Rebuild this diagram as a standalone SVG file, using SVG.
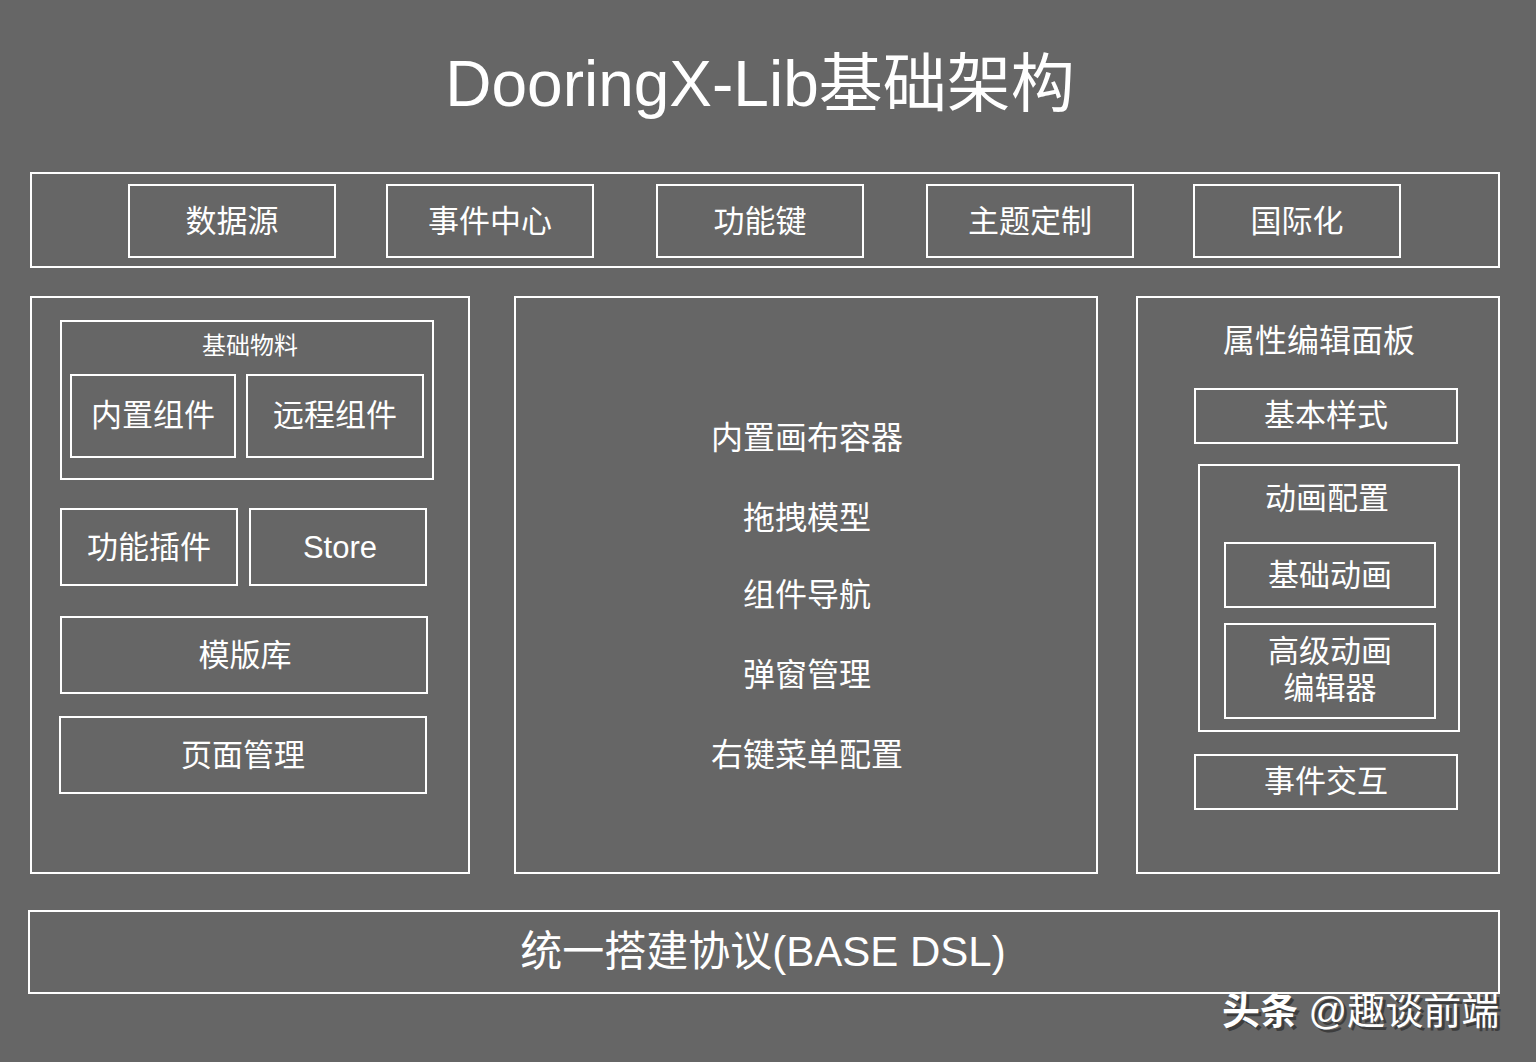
<svg xmlns="http://www.w3.org/2000/svg" width="1536" height="1062" viewBox="0 0 1536 1062">
<style>
.b{fill:none;stroke:#ffffff;stroke-width:2}
.t{fill:#ffffff;font-family:"Liberation Sans","Noto Sans CJK SC",sans-serif;text-anchor:middle;dominant-baseline:central}
.m{font-size:31px}
.c{font-size:32px}
.s{font-size:24px}
.w{font-family:"Liberation Sans","Noto Sans CJK SC",sans-serif;font-size:38px}
</style>
<rect x="0" y="0" width="1536" height="1062" fill="#666666"/>
<g id="title"><text class="t" x="760" y="84" font-size="64">DooringX-Lib基础架构</text></g>
<g id="top-bar"><rect class="b" x="31" y="173" width="1468" height="94"/></g>
<g id="n-datasource"><rect class="b" x="129" y="185" width="206" height="72"/><text class="t m" x="232" y="221">数据源</text></g>
<g id="n-event-center"><rect class="b" x="387" y="185" width="206" height="72"/><text class="t m" x="490" y="221">事件中心</text></g>
<g id="n-hotkey"><rect class="b" x="657" y="185" width="206" height="72"/><text class="t m" x="760" y="221">功能键</text></g>
<g id="n-theme"><rect class="b" x="927" y="185" width="206" height="72"/><text class="t m" x="1030" y="221">主题定制</text></g>
<g id="n-i18n"><rect class="b" x="1194" y="185" width="206" height="72"/><text class="t m" x="1297" y="221">国际化</text></g>

<g id="left-panel"><rect class="b" x="31" y="297" width="438" height="576"/></g>
<g id="n-materials"><rect class="b" x="61" y="321" width="372" height="158"/><text class="t s" x="250" y="345">基础物料</text></g>
<g id="n-builtin-comp"><rect class="b" x="71" y="375" width="164" height="82"/><text class="t m" x="153" y="415">内置组件</text></g>
<g id="n-remote-comp"><rect class="b" x="247" y="375" width="176" height="82"/><text class="t m" x="335" y="415">远程组件</text></g>
<g id="n-plugins"><rect class="b" x="61" y="509" width="176" height="76"/><text class="t m" x="149" y="547">功能插件</text></g>
<g id="n-store"><rect class="b" x="250" y="509" width="176" height="76"/><text class="t m" x="340" y="547">Store</text></g>
<g id="n-templates"><rect class="b" x="61" y="617" width="366" height="76"/><text class="t m" x="245" y="655">模版库</text></g>
<g id="n-pages"><rect class="b" x="60" y="717" width="366" height="76"/><text class="t m" x="243" y="755">页面管理</text></g>

<g id="center-panel"><rect class="b" x="515" y="297" width="582" height="576"/>
<text class="t c" x="807" y="438">内置画布容器</text>
<text class="t c" x="807" y="518">拖拽模型</text>
<text class="t c" x="807" y="595">组件导航</text>
<text class="t c" x="807" y="675">弹窗管理</text>
<text class="t c" x="807" y="755">右键菜单配置</text>
</g>

<g id="right-panel"><rect class="b" x="1137" y="297" width="362" height="576"/><text class="t c" x="1319" y="341">属性编辑面板</text></g>
<g id="n-basic-style"><rect class="b" x="1195" y="389" width="262" height="54"/><text class="t m" x="1326" y="415">基本样式</text></g>
<g id="n-animation"><rect class="b" x="1199" y="465" width="260" height="266"/><text class="t m" x="1327" y="498">动画配置</text></g>
<g id="n-basic-anim"><rect class="b" x="1225" y="543" width="210" height="64"/><text class="t m" x="1330" y="575">基础动画</text></g>
<g id="n-adv-anim"><rect class="b" x="1225" y="624" width="210" height="94"/><text class="t m" x="1330" y="651">高级动画</text><text class="t m" x="1330" y="688">编辑器</text></g>
<g id="n-event-interact"><rect class="b" x="1195" y="755" width="262" height="54"/><text class="t m" x="1326" y="781">事件交互</text></g>

<g id="bottom-bar"><rect class="b" x="29" y="911" width="1470" height="82"/><text class="t" x="763" y="951" font-size="42">统一搭建协议(BASE DSL)</text></g>

<g id="watermark">
<text class="w" x="1225" y="1027" fill="#222222" opacity="0.6"><tspan font-weight="bold">头条</tspan> @趣谈前端</text>
<text class="w" x="1222" y="1024" fill="#ffffff"><tspan font-weight="bold">头条</tspan> @趣谈前端</text>
</g>
<g id="connectors"/>
</svg>
